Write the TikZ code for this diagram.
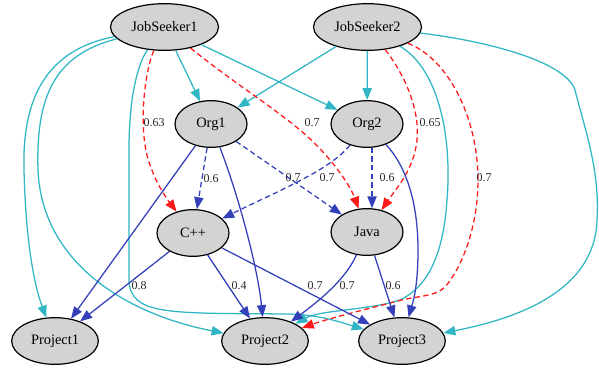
\documentclass[tikz,border=0pt]{standalone}
\usepackage{fontspec}
\setmainfont{Liberation Serif}
\usetikzlibrary{shapes.geometric,arrows.meta}
\definecolor{cyanE}{RGB}{48,182,196}
\definecolor{blueE}{RGB}{52,64,184}
\definecolor{redE}{RGB}{255,25,25}
\definecolor{nodeG}{RGB}{211,211,211}
\definecolor{lblC}{RGB}{40,40,40}
\tikzset{
  nd/.style={ellipse,draw=black,line width=0.9pt,fill=nodeG,inner sep=0pt,font=\fontsize{10.8}{12}\selectfont,minimum height=35pt},
  wide/.style={minimum width=81pt},
  mid/.style={minimum width=54pt},
  proj/.style={minimum width=65pt},
  edge/.style={line width=0.95pt,-{Triangle[length=9pt,width=7pt]}},
  ce/.style={edge,cyanE},
  be/.style={edge,blueE},
  bd/.style={edge,blueE,dash pattern=on 4pt off 2.5pt},
  rd/.style={edge,redE,dash pattern=on 4pt off 2.5pt},
  lbl/.style={font=\fontsize{9}{10}\selectfont,text=lblC,inner sep=0pt}
}
\begin{document}
\begin{tikzpicture}[x=0.75pt,y=-0.75pt]
\useasboundingbox (0,0) rectangle (599,369);
\node[nd,wide] (js1) at (164.5,27) {JobSeeker1};
\node[nd,wide] (js2) at (367.5,27) {JobSeeker2};
\node[nd,mid] (org1) at (211,124) {Org1};
\node[nd,mid] (org2) at (367,124) {Org2};
\node[nd,mid] (cpp) at (193,233) {C++};
\node[nd,mid] (java) at (367,232) {Java};
\node[nd,proj] (p1) at (55,341) {Project1};
\node[nd,proj] (p2) at (265,341) {Project2};
\node[nd,proj] (p3) at (402,341) {Project3};

% cyan edges
\draw[ce] (js1) -- (org1);
\draw[ce] (js1) -- (org2);
\draw[ce] (js2) -- (org1);
\draw[ce] (js2) -- (org2);
\draw[ce] (js1) .. controls (45,50) and (22,100) .. (24,170) .. controls (26,250) and (36,290) .. (p1);
\draw[ce] (js1) .. controls (52,55) and (36,100) .. (38,170) .. controls (42,265) and (130,315) .. (p2);
\draw[ce] (js1) .. controls (140,60) and (129,90) .. (129,150) -- (129,280) .. controls (130,316) and (170,313) .. (290,314) .. controls (320,315) and (340,322) .. (p3);
\draw[ce] (js2) .. controls (440,70) and (452,140) .. (447,200) .. controls (443,260) and (425,288) .. (400,300) .. controls (370,310) and (320,310) .. (p2);
\draw[ce] (js2) .. controls (480,40) and (565,60) .. (575,90) .. controls (585,130) and (600,170) .. (597,220) .. controls (595,290) and (520,318) .. (p3);

% red dashed
\draw[rd] (js1) .. controls (145,70) and (137,130) .. (150,165) .. controls (158,188) and (170,203) .. (cpp);
\draw[rd] (js1) .. controls (230,80) and (270,105) .. (300,130) .. controls (330,155) and (350,185) .. (java);
\draw[rd] (js2) .. controls (405,75) and (420,110) .. (417,140) .. controls (414,170) and (395,190) .. (java);
\draw[rd] (js2) .. controls (450,60) and (478,120) .. (478,180) .. controls (478,230) and (460,270) .. (445,287) .. controls (435,297) and (415,296) .. (398,301) .. controls (375,307) and (330,318) .. (p2);

% blue dashed
\draw[bd] (org1) -- (cpp);
\draw[bd] (org1) -- (java);
\draw[bd] (org2) .. controls (330,170) and (280,190) .. (cpp);
\draw[bd] (org2.-78) -- (java.78);

% blue solid
\draw[be] (org1) -- (p1);
\draw[be] (org1) .. controls (240,200) and (258,270) .. (p2);
\draw[be] (org2) .. controls (405,165) and (418,200) .. (418,250) .. controls (418,290) and (412,305) .. (p3);
\draw[be] (cpp) -- (p1);
\draw[be] (cpp) -- (p2);
\draw[be] (cpp) -- (p3);
\draw[be] (java) .. controls (345,280) and (320,300) .. (p2);
\draw[be] (java) -- (p3);

% labels
\node[lbl] (l1) at (154,123) {0.63};
\node[lbl] (l2) at (312,123) {0.7};
\node[lbl] (l3) at (430,123) {0.65};
\node[lbl] (l4) at (484,178) {0.7};
\node[lbl] (l5) at (211,179) {0.6};
\node[lbl] (l6) at (293,178) {0.7};
\node[lbl] (l7) at (327,178) {0.7};
\node[lbl] (l8) at (387,178) {0.6};
\node[lbl] (l9) at (139,286) {0.8};
\node[lbl] (l10) at (239,286) {0.4};
\node[lbl] (l11) at (315,286) {0.7};
\node[lbl] (l12) at (347,286) {0.7};
\node[lbl] (l13) at (393,286) {0.6};
\end{tikzpicture}
\end{document}
